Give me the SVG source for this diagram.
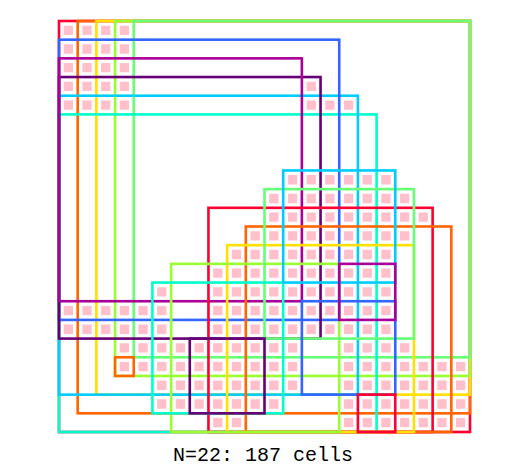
<svg xmlns="http://www.w3.org/2000/svg" width="529" height="473" viewBox="0 0 529 473">
<style>
.sq{fill:none;stroke-width:0.14}
.c0{stroke:#FF0033}.c1{stroke:#FF6600}.c2{stroke:#FFE000}.c3{stroke:#99FF33}.c4{stroke:#66FF77}
.c5{stroke:#00FFCC}.c6{stroke:#00CCFF}.c7{stroke:#3366FF}.c8{stroke:#660077}.c9{stroke:#AA0099}
.lbl{font-family:"Liberation Mono","DejaVu Sans Mono",monospace;font-size:20px;fill:#000}
</style>
<rect width="529" height="473" fill="#fff"/>
<g transform="translate(59 21) scale(18.6818)">
<g id="cells">
<path fill="#FFC0CB" d="M.25 .25h.5v.5h-.5zm1 0h.5v.5h-.5zm1 0h.5v.5h-.5zm1 0h.5v.5h-.5z
M.25 1.25h.5v.5h-.5zm1 0h.5v.5h-.5zm1 0h.5v.5h-.5zm1 0h.5v.5h-.5z
M.25 2.25h.5v.5h-.5zm1 0h.5v.5h-.5zm1 0h.5v.5h-.5zm1 0h.5v.5h-.5z
M.25 3.25h.5v.5h-.5zm1 0h.5v.5h-.5zm1 0h.5v.5h-.5zm1 0h.5v.5h-.5zm10 0h.5v.5h-.5z
M.25 4.25h.5v.5h-.5zm1 0h.5v.5h-.5zm1 0h.5v.5h-.5zm1 0h.5v.5h-.5zm10 0h.5v.5h-.5zm1 0h.5v.5h-.5zm1 0h.5v.5h-.5z
M12.25 8.25h.5v.5h-.5zm1 0h.5v.5h-.5zm1 0h.5v.5h-.5zm1 0h.5v.5h-.5zm1 0h.5v.5h-.5zm1 0h.5v.5h-.5z
M11.25 9.25h.5v.5h-.5zm1 0h.5v.5h-.5zm1 0h.5v.5h-.5zm1 0h.5v.5h-.5zm1 0h.5v.5h-.5zm1 0h.5v.5h-.5zm1 0h.5v.5h-.5zm1 0h.5v.5h-.5z
M11.25 10.25h.5v.5h-.5zm1 0h.5v.5h-.5zm1 0h.5v.5h-.5zm1 0h.5v.5h-.5zm1 0h.5v.5h-.5zm1 0h.5v.5h-.5zm1 0h.5v.5h-.5zm1 0h.5v.5h-.5zm1 0h.5v.5h-.5z
M10.25 11.25h.5v.5h-.5zm1 0h.5v.5h-.5zm1 0h.5v.5h-.5zm1 0h.5v.5h-.5zm1 0h.5v.5h-.5zm1 0h.5v.5h-.5zm1 0h.5v.5h-.5zm1 0h.5v.5h-.5zm1 0h.5v.5h-.5z
M9.25 12.25h.5v.5h-.5zm1 0h.5v.5h-.5zm1 0h.5v.5h-.5zm1 0h.5v.5h-.5zm1 0h.5v.5h-.5zm1 0h.5v.5h-.5zm1 0h.5v.5h-.5zm1 0h.5v.5h-.5zm1 0h.5v.5h-.5z
M8.25 13.25h.5v.5h-.5zm1 0h.5v.5h-.5zm1 0h.5v.5h-.5zm1 0h.5v.5h-.5zm1 0h.5v.5h-.5zm1 0h.5v.5h-.5zm1 0h.5v.5h-.5zm1 0h.5v.5h-.5zm1 0h.5v.5h-.5zm1 0h.5v.5h-.5z
M5.25 14.25h.5v.5h-.5zm3 0h.5v.5h-.5zm1 0h.5v.5h-.5zm1 0h.5v.5h-.5zm1 0h.5v.5h-.5zm1 0h.5v.5h-.5zm1 0h.5v.5h-.5zm1 0h.5v.5h-.5zm1 0h.5v.5h-.5zm1 0h.5v.5h-.5zm1 0h.5v.5h-.5z
M.25 15.25h.5v.5h-.5zm1 0h.5v.5h-.5zm1 0h.5v.5h-.5zm1 0h.5v.5h-.5zm1 0h.5v.5h-.5zm1 0h.5v.5h-.5zm3 0h.5v.5h-.5zm1 0h.5v.5h-.5zm1 0h.5v.5h-.5zm1 0h.5v.5h-.5zm1 0h.5v.5h-.5zm1 0h.5v.5h-.5zm1 0h.5v.5h-.5zm1 0h.5v.5h-.5zm1 0h.5v.5h-.5zm1 0h.5v.5h-.5z
M.25 16.25h.5v.5h-.5zm1 0h.5v.5h-.5zm1 0h.5v.5h-.5zm1 0h.5v.5h-.5zm1 0h.5v.5h-.5zm1 0h.5v.5h-.5zm3 0h.5v.5h-.5zm1 0h.5v.5h-.5zm1 0h.5v.5h-.5zm1 0h.5v.5h-.5zm1 0h.5v.5h-.5zm1 0h.5v.5h-.5zm1 0h.5v.5h-.5zm1 0h.5v.5h-.5zm1 0h.5v.5h-.5zm1 0h.5v.5h-.5z
M3.25 17.25h.5v.5h-.5zm1 0h.5v.5h-.5zm1 0h.5v.5h-.5zm1 0h.5v.5h-.5zm1 0h.5v.5h-.5zm1 0h.5v.5h-.5zm1 0h.5v.5h-.5zm1 0h.5v.5h-.5zm1 0h.5v.5h-.5zm1 0h.5v.5h-.5zm3 0h.5v.5h-.5zm1 0h.5v.5h-.5zm1 0h.5v.5h-.5zm1 0h.5v.5h-.5z
M3.25 18.25h.5v.5h-.5zm1 0h.5v.5h-.5zm1 0h.5v.5h-.5zm1 0h.5v.5h-.5zm1 0h.5v.5h-.5zm1 0h.5v.5h-.5zm1 0h.5v.5h-.5zm1 0h.5v.5h-.5zm1 0h.5v.5h-.5zm1 0h.5v.5h-.5zm3 0h.5v.5h-.5zm1 0h.5v.5h-.5zm1 0h.5v.5h-.5zm1 0h.5v.5h-.5zm1 0h.5v.5h-.5zm1 0h.5v.5h-.5zm1 0h.5v.5h-.5z
M5.25 19.25h.5v.5h-.5zm1 0h.5v.5h-.5zm1 0h.5v.5h-.5zm1 0h.5v.5h-.5zm1 0h.5v.5h-.5zm1 0h.5v.5h-.5zm1 0h.5v.5h-.5zm1 0h.5v.5h-.5zm3 0h.5v.5h-.5zm1 0h.5v.5h-.5zm1 0h.5v.5h-.5zm1 0h.5v.5h-.5zm1 0h.5v.5h-.5zm1 0h.5v.5h-.5zm1 0h.5v.5h-.5z
M5.25 20.25h.5v.5h-.5zm1 0h.5v.5h-.5zm1 0h.5v.5h-.5zm1 0h.5v.5h-.5zm1 0h.5v.5h-.5zm1 0h.5v.5h-.5zm1 0h.5v.5h-.5zm4 0h.5v.5h-.5zm1 0h.5v.5h-.5zm1 0h.5v.5h-.5zm1 0h.5v.5h-.5zm1 0h.5v.5h-.5zm1 0h.5v.5h-.5zm1 0h.5v.5h-.5z
M8.25 21.25h.5v.5h-.5zm1 0h.5v.5h-.5zm6 0h.5v.5h-.5zm1 0h.5v.5h-.5zm1 0h.5v.5h-.5zm1 0h.5v.5h-.5zm1 0h.5v.5h-.5zm1 0h.5v.5h-.5zm1 0h.5v.5h-.5z"/>
</g>
<g id="squares">
<rect id="sq22" class="sq c0" x="0" y="0" width="22" height="22"/>
<rect id="sq21" class="sq c1" x="1" y="0" width="21" height="21"/>
<rect id="sq20" class="sq c2" x="2" y="0" width="20" height="20"/>
<rect id="sq19" class="sq c3" x="3" y="0" width="19" height="19"/>
<rect id="sq18" class="sq c4" x="4" y="0" width="18" height="18"/>
<rect id="sq17" class="sq c5" x="0" y="5" width="17" height="17"/>
<rect id="sq16" class="sq c6" x="0" y="4" width="16" height="16"/>
<rect id="sq15" class="sq c7" x="0" y="1" width="15" height="15"/>
<rect id="sq14" class="sq c8" x="0" y="3" width="14" height="14"/>
<rect id="sq13" class="sq c9" x="0" y="2" width="13" height="13"/>
<rect id="sq12" class="sq c0" x="8" y="10" width="12" height="12"/>
<rect id="sq11" class="sq c1" x="10" y="11" width="11" height="11"/>
<rect id="sq10" class="sq c2" x="9" y="12" width="10" height="10"/>
<rect id="sq9" class="sq c3" x="6" y="13" width="9" height="9"/>
<rect id="sq8" class="sq c4" x="11" y="9" width="8" height="8"/>
<rect id="sq7" class="sq c5" x="5" y="14" width="7" height="7"/>
<rect id="sq6" class="sq c6" x="12" y="8" width="6" height="6"/>
<rect id="sq5" class="sq c7" x="13" y="15" width="5" height="5"/>
<rect id="sq4" class="sq c8" x="7" y="17" width="4" height="4"/>
<rect id="sq3" class="sq c9" x="15" y="13" width="3" height="3"/>
<rect id="sq2" class="sq c0" x="16" y="20" width="2" height="2"/>
<rect id="sq1" class="sq c1" x="3" y="18" width="1" height="1"/>
</g>
</g>
<text class="lbl" x="263" y="461" text-anchor="middle">N=22: 187 cells</text>
</svg>
